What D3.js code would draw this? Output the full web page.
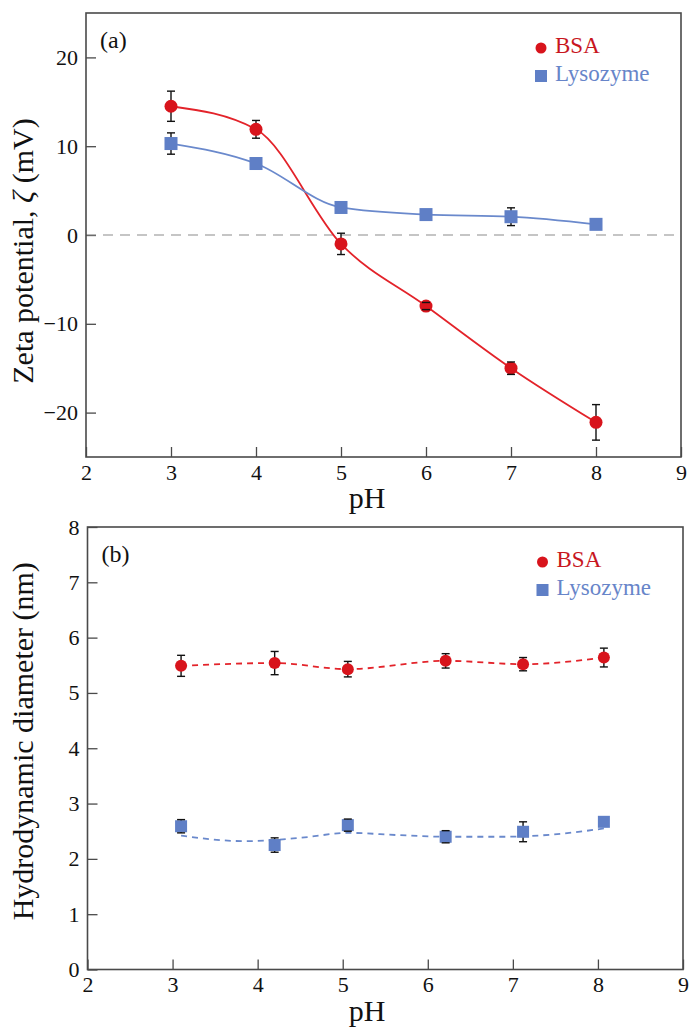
<!DOCTYPE html>
<html>
<head>
<meta charset="utf-8">
<script src="https://cdn.jsdelivr.net/npm/d3@7"></script>
<style>
    html, body { margin: 0; padding: 0; background: #fff; }
    svg { display: block; font-family: 'Liberation Serif', 'Times New Roman', serif; }
</style>
</head>
<body>
<div id="chart"></div>
<script>
// panel (a): zeta potential vs pH
const phA = [3, 4, 5, 6, 7, 8];
const bsaZeta = [14.5, 11.9, -1.0, -8.0, -15.0, -21.1];
const bsaZetaErr = [1.7, 1.0, 1.2, 0.4, 0.7, 2.0];
const lysZeta = [10.3, 8.05, 3.1, 2.3, 2.06, 1.2];
const lysZetaErr = [1.2, 0, 0, 0, 1.0, 0];
const zetaTicks = [-20, -10, 0, 10, 20];

// panel (b): hydrodynamic diameter vs pH
const phB = [3.1, 4.2, 5.06, 6.21, 7.12, 8.07];
const bsaDiam = [5.49, 5.54, 5.43, 5.58, 5.52, 5.64];
const bsaDiamErr = [0.19, 0.21, 0.14, 0.13, 0.12, 0.17];
const lysDiam = [2.59, 2.25, 2.61, 2.40, 2.49, 2.67];
const lysDiamErr = [0.12, 0.13, 0.11, 0.11, 0.18, 0];
// dashed trend line drawn under the lysozyme points
const lysFitPh = [3.1, 3.85, 4.5, 5.07, 5.65, 6.2, 6.85, 7.47, 8.07];
const lysFitDiam = [2.42, 2.32, 2.38, 2.47, 2.43, 2.40, 2.40, 2.44, 2.55];
const diamTicks = [0, 1, 2, 3, 4, 5, 6, 7, 8];

const phTicks = [2, 3, 4, 5, 6, 7, 8, 9];
const seriesNames = ['BSA', 'Lysozyme'];

const RED = '#d8141c';
const RED_LINE = '#e3232a';
const BLUE = '#5f7fc6';
const BLUE_LINE = '#6a89cc';
const AXIS = '#4a4a4a';

const W = 689, H = 1031;
const svg = d3.select('#chart').append('svg')
    .attr('width', W)
    .attr('height', H);

function zip(xs, ys, es) {
    return xs.map((x, i) => ({ x, y: ys[i], e: es ? es[i] : 0 }));
}

function drawPanel(o) {
    const x = d3.scaleLinear().domain([2, 9]).range([o.left, o.right]);
    const y = d3.scaleLinear().domain(o.yDomain).range([o.bottom, o.top]);
    const g = svg.append('g');

    // ticks (inward), no domain line, frame drawn after
    const xAxis = g.append('g')
        .attr('transform', `translate(0,${o.bottom})`)
        .call(d3.axisBottom(x).tickValues(phTicks).tickFormat(d3.format('d'))
            .tickSizeInner(-10).tickSizeOuter(0).tickPadding(7));
    const yAxis = g.append('g')
        .attr('transform', `translate(${o.left},0)`)
        .call(d3.axisLeft(y).tickValues(o.yTicks).tickFormat(d3.format('d'))
            .tickSizeInner(-10).tickSizeOuter(0).tickPadding(8));
    [xAxis, yAxis].forEach(a => {
        a.select('.domain').remove();
        a.selectAll('line').attr('stroke', AXIS).attr('stroke-width', 1.3);
        a.selectAll('text')
            .attr('fill', '#111')
            .style('font-family', "'Liberation Serif', 'Times New Roman', serif")
            .style('font-size', '22px');
    });

    if (o.zeroLine) {
        g.append('line')
            .attr('x1', o.left).attr('x2', o.right)
            .attr('y1', y(0)).attr('y2', y(0))
            .attr('stroke', '#8c8c8c')
            .attr('stroke-width', 1.2)
            .attr('stroke-dasharray', '10,7');
    }

    o.lines.forEach(l => {
        g.append('path')
            .datum(l.data)
            .attr('fill', 'none')
            .attr('stroke', l.color)
            .attr('stroke-width', l.width)
            .attr('stroke-dasharray', l.dash || null)
            .attr('d', d3.line().x(d => x(d.x)).y(d => y(d.y)).curve(d3.curveMonotoneX));
    });

    // error bar stems under the markers, caps on top
    const pts = o.points.flatMap(p => p.data.map(d => ({ ...d, shape: p.shape, color: p.color })));
    const withErr = pts.filter(d => d.e > 0);
    g.selectAll('.stem').data(withErr).enter().append('line')
        .attr('x1', d => x(d.x)).attr('x2', d => x(d.x))
        .attr('y1', d => y(d.y + d.e)).attr('y2', d => y(d.y - d.e))
        .attr('stroke', '#111').attr('stroke-width', 1.4);

    g.selectAll('.dot').data(pts.filter(d => d.shape === 'circle')).enter().append('circle')
        .attr('cx', d => x(d.x)).attr('cy', d => y(d.y))
        .attr('r', o.r)
        .attr('fill', d => d.color);
    g.selectAll('.sq').data(pts.filter(d => d.shape === 'square')).enter().append('rect')
        .attr('x', d => x(d.x) - o.sq / 2).attr('y', d => y(d.y) - o.sq / 2)
        .attr('width', o.sq).attr('height', o.sq)
        .attr('fill', d => d.color);

    withErr.forEach(d => {
        [d.y + d.e, d.y - d.e].forEach(v => {
            g.append('line')
                .attr('x1', x(d.x) - 4).attr('x2', x(d.x) + 4)
                .attr('y1', y(v)).attr('y2', y(v))
                .attr('stroke', '#111').attr('stroke-width', 1.4);
        });
    });

    // frame
    g.append('rect')
        .attr('x', o.left).attr('y', o.top)
        .attr('width', o.right - o.left).attr('height', o.bottom - o.top)
        .attr('fill', 'none')
        .attr('stroke', AXIS)
        .attr('stroke-width', 1.6);

    // panel label
    g.append('text')
        .attr('x', o.left + 14).attr('y', o.top + 35)
        .style('font-size', '24px').attr('fill', '#111')
        .text(o.label);

    // legend
    const leg = g.append('g').attr('transform', `translate(${o.left + 455},${o.top + 35})`);
    leg.append('circle').attr('cx', 0).attr('cy', 0).attr('r', 5.5).attr('fill', RED);
    leg.append('text').attr('x', 14).attr('y', 5).attr('fill', '#c8161e')
        .style('font-size', '23px').text(seriesNames[0]);
    leg.append('rect').attr('x', -6).attr('y', 22).attr('width', 12).attr('height', 12).attr('fill', BLUE);
    leg.append('text').attr('x', 14).attr('y', 33).attr('fill', '#6785c9')
        .style('font-size', '23px').text(seriesNames[1]);

    // axis titles
    g.append('text')
        .attr('x', 367).attr('y', o.bottom + 51)
        .attr('text-anchor', 'middle')
        .style('font-size', '30px').attr('fill', '#111')
        .text('pH');

    const yt = g.append('text')
        .attr('transform', `translate(33,${(o.top + o.bottom) / 2 + o.titleShift}) rotate(-90)`)
        .attr('text-anchor', 'middle')
        .style('font-size', '30px').attr('fill', '#111');
    o.yTitle.forEach(part => {
        yt.append('tspan').style('font-style', part.italic ? 'italic' : null).text(part.t);
    });
}

drawPanel({
    left: 86, right: 681, top: 13, bottom: 457,
    yDomain: [-25, 25], yTicks: zetaTicks,
    zeroLine: true,
    r: 6.5, sq: 13,
    label: '(a)',
    titleShift: 16,
    yTitle: [{ t: 'Zeta potential, ' }, { t: 'ζ', italic: true }, { t: ' (mV)' }],
    lines: [
        { data: zip(phA, bsaZeta), color: RED_LINE, width: 1.8 },
        { data: zip(phA, lysZeta), color: BLUE_LINE, width: 1.8 }
    ],
    points: [
        { data: zip(phA, lysZeta, lysZetaErr), shape: 'square', color: BLUE },
        { data: zip(phA, bsaZeta, bsaZetaErr), shape: 'circle', color: RED }
    ]
});

drawPanel({
    left: 87.5, right: 683, top: 527, bottom: 969.5,
    yDomain: [0, 8], yTicks: diamTicks,
    zeroLine: false,
    r: 6, sq: 12,
    label: '(b)',
    titleShift: -7,
    yTitle: [{ t: 'Hydrodynamic diameter (nm)' }],
    lines: [
        { data: zip(phB, bsaDiam), color: RED_LINE, width: 1.8, dash: '6,5' },
        { data: zip(lysFitPh, lysFitDiam), color: BLUE_LINE, width: 1.8, dash: '6,5' }
    ],
    points: [
        { data: zip(phB, lysDiam, lysDiamErr), shape: 'square', color: BLUE },
        { data: zip(phB, bsaDiam, bsaDiamErr), shape: 'circle', color: RED }
    ]
});
</script>
</body>
</html>
